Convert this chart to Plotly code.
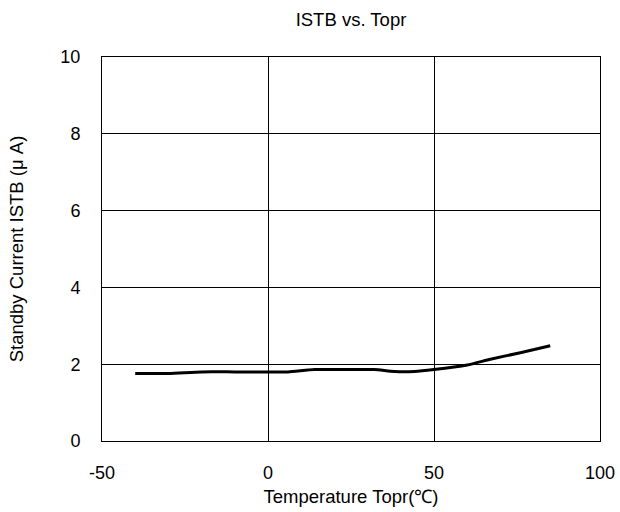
import plotly.graph_objects as go

temps = [-40, -30, -20, -10, 0, 6, 14, 25, 32, 38, 44, 50, 60, 67, 76, 85]
istb = [1.76, 1.76, 1.80, 1.80, 1.80, 1.80, 1.86, 1.86, 1.86, 1.81, 1.81, 1.86, 1.98, 2.13, 2.30, 2.48]

x_ticks = [-50, 0, 50, 100]
y_ticks = [0, 2, 4, 6, 8, 10]

font_family = "Liberation Sans, Arial, sans-serif"

fig = go.Figure()
fig.add_trace(go.Scatter(
    x=temps, y=istb, mode="lines",
    line=dict(color="black", width=3, shape="spline", smoothing=0.6),
    showlegend=False,
))

fig.update_layout(
    width=620, height=512,
    margin=dict(l=102, r=20, t=57, b=71, autoexpand=False),
    paper_bgcolor="white", plot_bgcolor="white",
    font=dict(family=font_family, color="black", size=18),
    title=dict(text="ISTB vs. Topr", x=0.5, xanchor="center",
               xref="paper", y=1 - 20 / 512, yanchor="middle",
               font=dict(size=18.5)),
)
fig.update_xaxes(
    range=[-50, 100], tickvals=x_ticks, ticktext=[str(v) for v in x_ticks],
    showgrid=True, gridcolor="black", gridwidth=1,
    showline=True, linecolor="black", linewidth=1, mirror=True,
    zeroline=False, ticks="outside", ticklen=15, tickcolor="rgba(0,0,0,0)",
    tickfont=dict(size=18), automargin=False,
    title=dict(text="Temperature Topr(℃)", font=dict(size=18.5), standoff=8),
)
fig.update_yaxes(
    range=[0, 10], tickvals=y_ticks, ticktext=[str(v) for v in y_ticks],
    showgrid=True, gridcolor="black", gridwidth=1,
    showline=True, linecolor="black", linewidth=1, mirror=True,
    zeroline=False, ticks="outside", ticklen=17, tickcolor="rgba(0,0,0,0)",
    tickfont=dict(size=18), automargin=False,
    title=dict(text="Standby Current ISTB (μ A)", font=dict(size=18.5), standoff=31),
)

fig.write_html(
    "out.html",
    config={"displayModeBar": False},
    post_script="document.body.style.margin='0';document.body.style.overflow='hidden';",
)
